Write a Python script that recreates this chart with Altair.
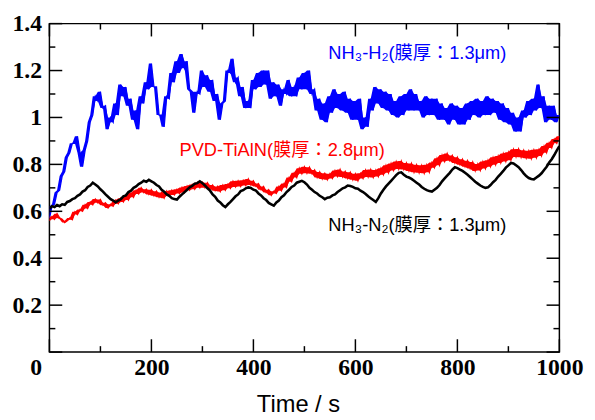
import altair as alt
import pandas as pd

TIME = list(range(0, 1001, 5))

NH3_H2 = [
    0.57, 0.62, 0.63, 0.68, 0.69, 0.75, 0.77, 0.83, 0.85, 0.89,
    0.89, 0.92, 0.85, 0.79, 0.86, 0.90, 0.98, 1.01, 1.09, 1.07,
    1.11, 1.04, 1.05, 0.95, 1.00, 0.98, 1.06, 1.01, 1.14, 1.09,
    1.13, 1.05, 1.08, 0.99, 1.03, 0.95, 1.09, 1.06, 1.15, 1.12,
    1.23, 1.13, 1.13, 1.01, 1.01, 0.96, 1.09, 1.08, 1.19, 1.15,
    1.24, 1.19, 1.27, 1.21, 1.24, 1.12, 1.11, 1.02, 1.11, 1.10,
    1.20, 1.13, 1.18, 1.11, 1.16, 1.07, 1.10, 0.99, 1.06, 1.07,
    1.20, 1.19, 1.25, 1.15, 1.17, 1.09, 1.13, 1.04, 1.07, 1.04,
    1.16, 1.12, 1.19, 1.13, 1.20, 1.14, 1.20, 1.08, 1.15, 1.09,
    1.14, 1.05, 1.12, 1.10, 1.16, 1.09, 1.13, 1.09, 1.17, 1.12,
    1.19, 1.12, 1.20, 1.10, 1.12, 1.03, 1.08, 0.99, 1.06, 0.98,
    1.09, 1.02, 1.12, 1.04, 1.10, 1.03, 1.11, 1.02, 1.08, 0.99,
    1.07, 0.99, 1.08, 0.95, 1.00, 0.96, 1.08, 1.03, 1.13, 1.06,
    1.12, 1.04, 1.11, 1.03, 1.10, 1.01, 1.07, 1.00, 1.09, 1.01,
    1.10, 1.03, 1.12, 1.03, 1.10, 1.03, 1.07, 1.00, 1.09, 1.01,
    1.08, 1.01, 1.08, 0.99, 1.06, 0.99, 1.04, 0.97, 1.06, 0.99,
    1.05, 0.97, 1.04, 0.97, 1.06, 0.99, 1.07, 1.01, 1.08, 1.00,
    1.07, 1.01, 1.09, 1.01, 1.08, 1.02, 1.07, 0.99, 1.06, 0.98,
    1.04, 0.97, 1.02, 0.94, 1.00, 0.94, 1.03, 1.00, 1.07, 1.01,
    1.08, 1.03, 1.14, 1.04, 1.09, 0.98, 1.05, 0.99, 1.05, 0.98,
    1.01,
]

PVD_TIALN = [
    0.560, 0.578, 0.566, 0.590, 0.572, 0.566, 0.552, 0.560, 0.572, 0.564,
    0.598, 0.586, 0.608, 0.600, 0.628, 0.612, 0.640, 0.628, 0.652, 0.636,
    0.650, 0.626, 0.636, 0.614, 0.630, 0.622, 0.648, 0.632, 0.656, 0.640,
    0.664, 0.648, 0.678, 0.660, 0.690, 0.674, 0.700, 0.680, 0.694, 0.672,
    0.692, 0.666, 0.686, 0.660, 0.680, 0.656, 0.686, 0.666, 0.690, 0.670,
    0.694, 0.676, 0.702, 0.680, 0.708, 0.690, 0.714, 0.694, 0.722, 0.700,
    0.724, 0.700, 0.722, 0.696, 0.712, 0.688, 0.706, 0.684, 0.712, 0.690,
    0.716, 0.698, 0.728, 0.704, 0.730, 0.706, 0.732, 0.710, 0.738, 0.712,
    0.730, 0.706, 0.718, 0.692, 0.706, 0.680, 0.692, 0.668, 0.686, 0.676,
    0.706, 0.688, 0.718, 0.702, 0.744, 0.726, 0.764, 0.744, 0.784, 0.760,
    0.790, 0.762, 0.788, 0.760, 0.776, 0.744, 0.768, 0.738, 0.762, 0.734,
    0.760, 0.740, 0.774, 0.748, 0.778, 0.746, 0.770, 0.740, 0.766, 0.734,
    0.760, 0.730, 0.762, 0.740, 0.776, 0.746, 0.778, 0.744, 0.776, 0.748,
    0.784, 0.756, 0.796, 0.764, 0.804, 0.774, 0.812, 0.780, 0.814, 0.778,
    0.806, 0.772, 0.804, 0.766, 0.798, 0.764, 0.796, 0.762, 0.798, 0.766,
    0.808, 0.786, 0.826, 0.796, 0.840, 0.812, 0.846, 0.816, 0.838, 0.806,
    0.830, 0.798, 0.822, 0.790, 0.816, 0.782, 0.810, 0.772, 0.802, 0.774,
    0.812, 0.782, 0.818, 0.790, 0.830, 0.798, 0.836, 0.806, 0.846, 0.812,
    0.852, 0.818, 0.864, 0.832, 0.866, 0.830, 0.860, 0.826, 0.858, 0.824,
    0.862, 0.828, 0.864, 0.836, 0.878, 0.850, 0.892, 0.870, 0.908, 0.890,
    0.920,
]

NH3_N2 = [
    0.610, 0.622, 0.618, 0.627, 0.622, 0.630, 0.628, 0.640, 0.644, 0.652,
    0.656, 0.666, 0.672, 0.684, 0.690, 0.704, 0.710, 0.722, 0.714, 0.706,
    0.694, 0.684, 0.672, 0.662, 0.652, 0.646, 0.638, 0.646, 0.652, 0.664,
    0.668, 0.682, 0.688, 0.700, 0.706, 0.716, 0.722, 0.730, 0.726, 0.734,
    0.728, 0.722, 0.712, 0.706, 0.692, 0.684, 0.672, 0.666, 0.656, 0.652,
    0.650, 0.662, 0.672, 0.682, 0.692, 0.702, 0.708, 0.718, 0.720, 0.728,
    0.720, 0.710, 0.698, 0.688, 0.672, 0.662, 0.646, 0.638, 0.626, 0.618,
    0.630, 0.640, 0.652, 0.664, 0.672, 0.686, 0.690, 0.698, 0.702, 0.700,
    0.692, 0.688, 0.676, 0.668, 0.656, 0.648, 0.636, 0.630, 0.624, 0.638,
    0.646, 0.660, 0.668, 0.682, 0.692, 0.704, 0.710, 0.722, 0.726, 0.730,
    0.724, 0.714, 0.700, 0.692, 0.682, 0.676, 0.666, 0.660, 0.652, 0.658,
    0.660, 0.668, 0.672, 0.682, 0.690, 0.698, 0.702, 0.710, 0.708, 0.704,
    0.698, 0.696, 0.688, 0.682, 0.674, 0.664, 0.656, 0.648, 0.640, 0.656,
    0.676, 0.692, 0.706, 0.718, 0.730, 0.742, 0.754, 0.764, 0.766, 0.756,
    0.748, 0.744, 0.738, 0.730, 0.722, 0.714, 0.704, 0.696, 0.690, 0.686,
    0.684, 0.692, 0.700, 0.712, 0.728, 0.740, 0.752, 0.764, 0.778, 0.788,
    0.784, 0.778, 0.772, 0.764, 0.756, 0.746, 0.736, 0.726, 0.718, 0.710,
    0.704, 0.700, 0.702, 0.712, 0.724, 0.734, 0.748, 0.760, 0.772, 0.786,
    0.796, 0.806, 0.804, 0.796, 0.788, 0.776, 0.762, 0.750, 0.742, 0.738,
    0.736, 0.744, 0.752, 0.762, 0.776, 0.790, 0.808, 0.822, 0.840, 0.860,
    0.878,
]

SERIES_COLORS = ["#0000ff", "#ff0000", "#000000"]
SERIES_WIDTHS = [1.3, 1.3, 2.6]
SERIES_BAND = [True, True, False]

X_MAJOR = [0, 200, 400, 600, 800, 1000]
X_MINOR = [100, 300, 500, 700, 900]
Y_MAJOR = [0, 0.2, 0.4, 0.6, 0.8, 1.0, 1.2, 1.4]
Y_MINOR = [0.1, 0.3, 0.5, 0.7, 0.9, 1.1, 1.3]
Y_LABELS = [0.2, 0.4, 0.6, 0.8, 1.0, 1.2, 1.4]

LABEL_TEXT = ["NH₃-H₂(膜厚：1.3μm)", "PVD-TiAlN(膜厚：2.8μm)", "NH₃-N₂(膜厚：1.3μm)"]
LABEL_T = [547, 255, 547]
LABEL_V = [1.276, 0.86, 0.542]

W, H = 517, 333
SANS = "Liberation Sans, Arial, Noto Sans CJK JP, sans-serif"
SERIF = "Liberation Serif, Times New Roman, serif"

xscale = alt.Scale(domain=[0, 1000], nice=False, zero=False)
yscale = alt.Scale(domain=[0, 1.4], nice=False, zero=False)

xaxis = alt.Axis(
    values=X_MAJOR, ticks=False, domain=False, grid=False, format="d",
    labelFont=SERIF, labelFontWeight="bold", labelFontSize=24, labelColor="black",
    labelPadding=4, labelFlush=False, labelOverlap=False, labelBound=False,
    labelOffset=alt.ExprRef("datum.value == 0 ? -14 : 0"),
    title="Time / s", titleFont=SANS, titleFontSize=24, titleFontWeight="normal",
    titleColor="black", titlePadding=13, titleX=252,
)
yaxis = alt.Axis(
    values=Y_LABELS, ticks=False, domain=False, grid=False, format="~g",
    labelFont=SERIF, labelFontWeight="bold", labelFontSize=24, labelColor="black",
    labelPadding=8, labelFlush=False, labelOverlap=False, labelBound=False,
    title=None,
)

X = alt.X("t:Q", scale=xscale, axis=xaxis)
Y = alt.Y("v:Q", scale=yscale, axis=yaxis)

layers = []
for vals, col, sw, band in zip([NH3_H2, PVD_TIALN, NH3_N2], SERIES_COLORS,
                               SERIES_WIDTHS, SERIES_BAND):
    d = pd.DataFrame({"t": TIME, "v": vals})
    if band:
        layers.append(
            alt.Chart(d)
            .transform_window(lo="min(v)", hi="max(v)", frame=[0, 1],
                              sort=[alt.SortField("t")])
            .mark_area(color=col, clip=True)
            .encode(x=X, y=alt.Y("lo:Q", scale=yscale, axis=yaxis), y2="hi:Q")
        )
    layers.append(
        alt.Chart(d).mark_line(color=col, strokeWidth=sw, clip=True).encode(x=X, y=Y)
    )

def xticks(vals, length):
    d = pd.DataFrame({"t": vals})
    bottom = alt.Chart(d).mark_rule(color="black", strokeWidth=1.5).encode(
        x=X, y=alt.value(H), y2=alt.value(H - length))
    top = alt.Chart(d).mark_rule(color="black", strokeWidth=1.5).encode(
        x=X, y=alt.value(0), y2=alt.value(length))
    return [bottom, top]

def yticks(vals, length):
    d = pd.DataFrame({"v": vals})
    left = alt.Chart(d).mark_rule(color="black", strokeWidth=1.5).encode(
        y=Y, x=alt.value(0), x2=alt.value(length))
    right = alt.Chart(d).mark_rule(color="black", strokeWidth=1.5).encode(
        y=Y, x=alt.value(W), x2=alt.value(W - length))
    return [left, right]

layers += xticks(X_MAJOR, 13) + xticks(X_MINOR, 6) + yticks(Y_MAJOR, 13) + yticks(Y_MINOR, 6)

lab = pd.DataFrame({"t": LABEL_T, "v": LABEL_V, "label": LABEL_TEXT, "c": SERIES_COLORS})
layers.append(
    alt.Chart(lab).mark_text(align="left", baseline="middle", font=SANS, fontSize=18.5).encode(
        x=X, y=Y, text="label:N", color=alt.Color("c:N", scale=None))
)

chart = alt.layer(*layers).properties(
    width=W, height=H,
    autosize=alt.AutoSizeParams(type="none"),
    padding={"left": 42, "top": 13, "right": 28, "bottom": 64},
    background="white",
).configure_view(stroke="black", strokeWidth=1.5)

chart.save("out.html", embed_options={"renderer": "svg", "actions": False})
